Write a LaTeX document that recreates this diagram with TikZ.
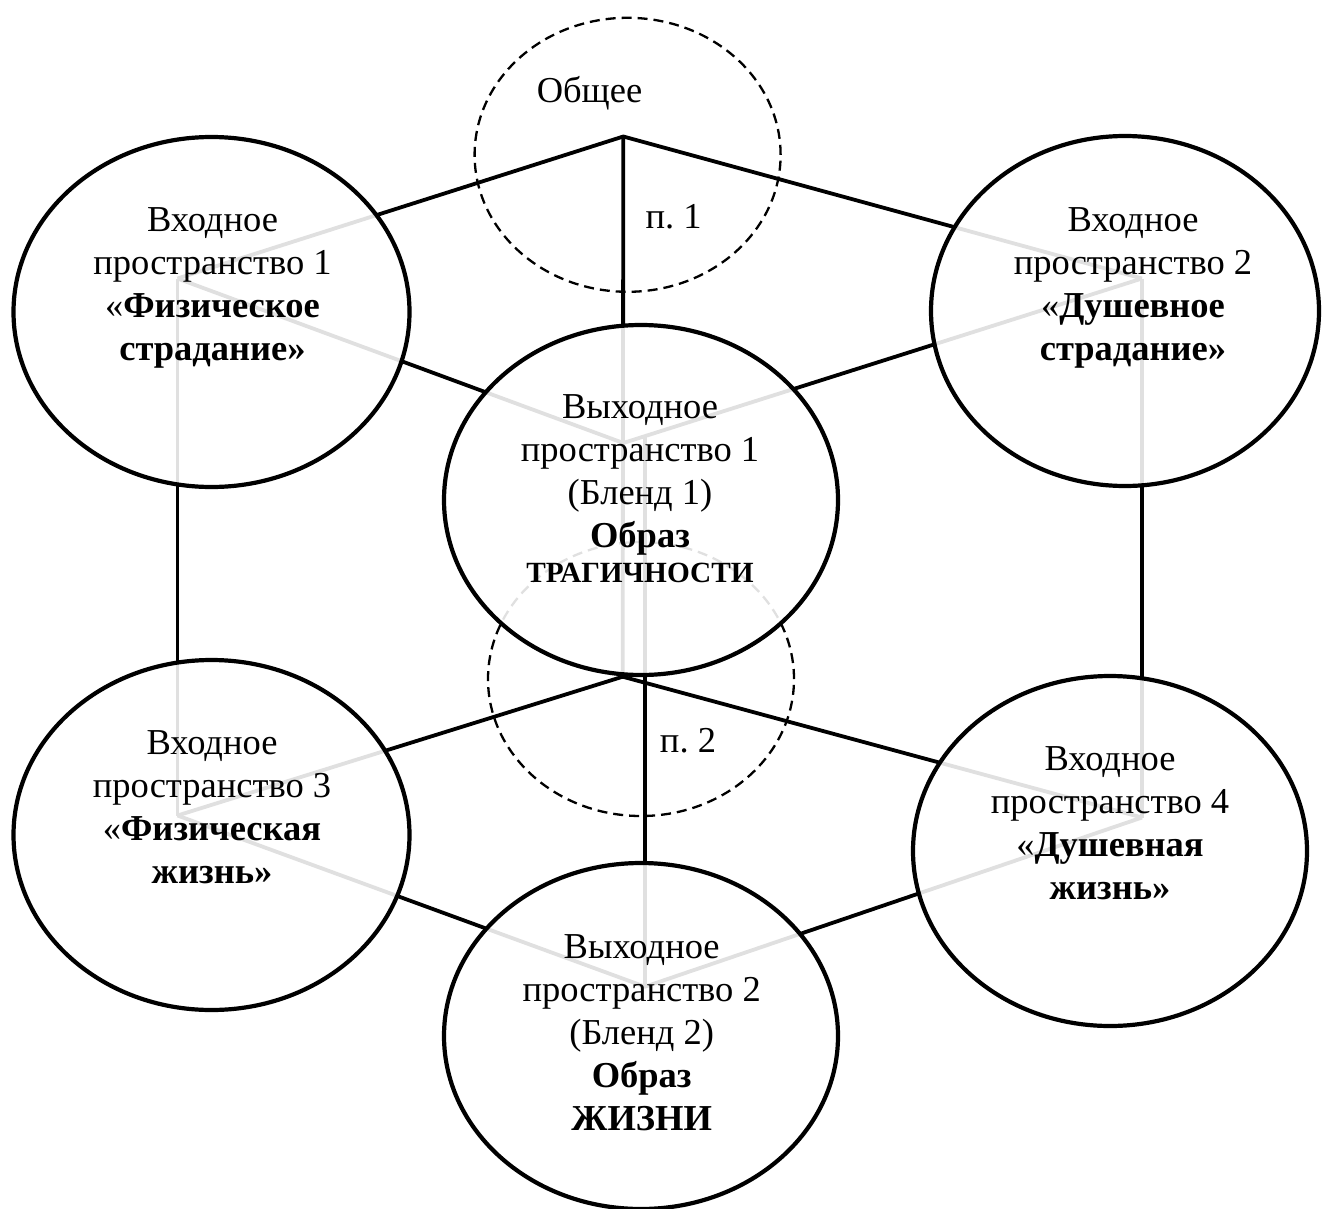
\documentclass[tikz,border=0pt]{standalone}
\usepackage{fontspec}
\setmainfont{Liberation Serif}
\usetikzlibrary{shapes.geometric}

\begin{document}
\frenchspacing
\begin{tikzpicture}[x=1pt, y=-1pt,
  skel/.style={line width=3.8pt},
  space/.style={ellipse, draw, line width=4.2pt, fill=white, fill opacity=0.88,
    inner sep=0pt, minimum width=396pt, minimum height=350pt},
  generic/.style={ellipse, draw, line width=2.3pt, dash pattern=on 10pt off 6pt,
    inner sep=0pt, minimum width=306pt, minimum height=274pt},
  label/.style={align=center, inner sep=0pt, anchor=north,
    font=\fontsize{36.5}{43}\selectfont},
  tag/.style={inner sep=0pt, anchor=base, font=\fontsize{36.5}{43}\selectfont}]

\useasboundingbox (0,0) rectangle (1327,1209);

% frame points of the network
\coordinate (h1) at (623.3,136.5);
\coordinate (h2) at (622.7,676.7);
\coordinate (v1) at (177.5,278.5);
\coordinate (v2) at (1142,278.5);
\coordinate (v3) at (177.5,815.5);
\coordinate (v4) at (1142,817.5);
\coordinate (b1) at (623.3,443);
\coordinate (b2) at (645,986.7);
\coordinate (s2) at (645,436);

% connecting lines
\draw[skel] (v1) -- (h1) -- (v2);
\draw[skel] (h1) -- (h2);
\draw[skel] (v1) -- (b1) -- (v2);
\draw[skel] (v1) -- (v3);
\draw[skel] (v2) -- (v4);
\draw[skel] (v3) -- (h2) -- (v4);
\draw[skel] (v3) -- (b2) -- (v4);
\draw[skel] (s2) -- (b2);

% generic spaces
\node[generic] (g1) at (627.6,154.8) {};
\node[generic] (g2) at (641,679) {};

% input and output spaces
\node[space] (in1) at (211.5,312) {};
\node[space, minimum width=388pt] (in2) at (1125,311) {};
\node[space] (in3) at (211.5,835) {};
\node[space, minimum width=394pt] (in4) at (1110,851) {};
\node[space, minimum width=394pt] (bl1) at (641,500) {};
\node[space, minimum width=394pt, minimum height=346pt] (bl2) at (641,1036) {};

% texts
\node[label] (t1) at (212.5,206.7) {\rule{0pt}{25pt}Входное\\пространство 1\\«\textbf{Физическое}\\\textbf{страдание»}};
\node[label] (t2) at (1133,206.7) {\rule{0pt}{25pt}Входное\\пространство 2\\«\textbf{Душевное}\\\textbf{страдание»}};
\node[label] (t3) at (212,729) {\rule{0pt}{25pt}Входное\\пространство 3\\«\textbf{Физическая}\\\textbf{жизнь»}};
\node[label] (t4) at (1110,745) {\rule{0pt}{25pt}Входное\\пространство 4\\«\textbf{Душевная}\\\textbf{жизнь»}};
\node[label] (t5) at (640,393.3) {\rule{0pt}{25pt}Выходное\\пространство 1\\(Бленд 1)\\\textbf{Образ}\\[-8pt]{\fontsize{29.3}{43}\selectfont\textbf{ТРАГИЧНОСТИ}}};
\node[label] (t6) at (641.7,933.3) {\rule{0pt}{25pt}Выходное\\пространство 2\\(Бленд 2)\\\textbf{Образ}\\\textbf{ЖИЗНИ}};

\node[tag] (gt) at (589.5,103) {Общее};
\node[tag] (p1) at (673.6,229) {п. 1};
\node[tag] (p2) at (688,752) {п. 2};
\end{tikzpicture}
\end{document}
